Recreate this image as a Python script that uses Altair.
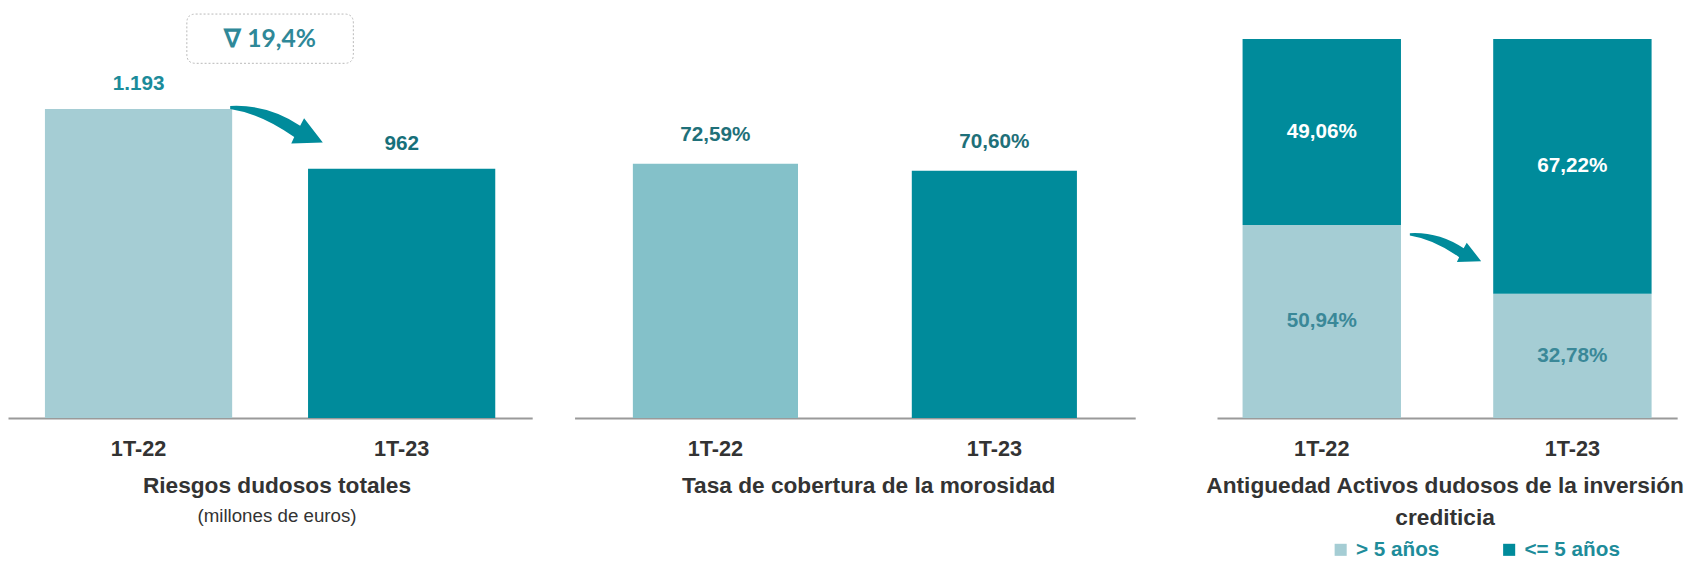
import altair as alt
import pandas as pd

# ---------------- data ----------------
periods = ["1T-22", "1T-23"]
riesgos = [1193, 962]
riesgos_labels = ["1.193", "962"]
cobertura = [72.59, 70.60]
cobertura_labels = ["72,59%", "70,60%"]
antig_series = ["> 5 años", "<= 5 años"]
mas5 = [50.94, 32.78]
menos5 = [49.06, 67.22]

titles = {
    "p1": "Riesgos dudosos totales",
    "p1_sub": "(millones  de euros)",
    "p2": "Tasa de cobertura de la morosidad",
    "p3": ["Antiguedad Activos  dudosos de la inversión", "crediticia"],
}

# ---------------- style ----------------
FONT = "Liberation Sans, Arial, sans-serif"
LIGHT = "#a5cdd4"
LIGHT2 = "#84c1c9"
DARK = "#008b9b"
TXT = "#333333"
H = 410
W1, W2, W3 = 532, 569, 467
SP1, SP2 = 43, 67
LBL = 21


def pct(v):
    return f"{v:.2f}%".replace(".", ",")


def band_scale(p_in, p_out):
    return alt.Scale(paddingInner=p_in, paddingOuter=p_out)


AX_DEFAULT = alt.Axis(title=None, labelAngle=0)


def x_enc(scale, band_pos=None, axis=AX_DEFAULT):
    kw = {}
    if band_pos is not None:
        kw["bandPosition"] = band_pos
    return alt.X("periodo:N", sort=periods, scale=scale, axis=axis, **kw)


ARROW_PTS = [(0, 0), (38, -2), (71, 20), (75, 12.5), (94, 37),
             (62, 38), (65, 31.6), (32, 8), (0, 3)]


def arrow_path(scale, ox, oy, unit=50.0):
    p = [f"{(x * scale + ox) / unit:.3f} {(y * scale + oy) / unit:.3f}" for x, y in ARROW_PTS]
    return (f"M {p[0]} Q {p[1]} {p[2]} L {p[3]} L {p[4]} L {p[5]} "
            f"L {p[6]} Q {p[7]} {p[8]} Z")


def box_path(w, h, r, ox, unit=50.0):
    a, b, c, o = w / 2 / unit, h / 2 / unit, r / unit, ox / unit
    pts = [(-a + c, -b), (a - c, -b), (a, -b), (a, -b + c), (a, b - c), (a, b), (a - c, b),
           (-a + c, b), (-a, b), (-a, b - c), (-a, -b + c), (-a, -b), (-a + c, -b)]
    q = [f"{x + o:.3f} {y:.3f}" for x, y in pts]
    return (f"M {q[0]} L {q[1]} Q {q[2]} {q[3]} L {q[4]} Q {q[5]} {q[6]} "
            f"L {q[7]} Q {q[8]} {q[9]} L {q[10]} Q {q[11]} {q[12]} Z")


# ---------------- panel 1 ----------------
df1 = pd.DataFrame({
    "periodo": periods, "valor": riesgos, "label": riesgos_labels,
    "fill": [LIGHT, DARK], "lcolor": ["#1b8b9a", "#17707a"],
})
p1_in, p1_out = 0.2884, 0.1404
s1 = band_scale(p1_in, p1_out)
step1 = W1 / (2 - p1_in + 2 * p1_out)
gap_half = step1 * p1_in / 2  # distance from bar-1 right edge to midpoint between bars
y1 = alt.Y("valor:Q", scale=alt.Scale(domain=[0, 1559]), axis=None)
base1 = alt.Chart(df1)
bars1 = base1.mark_bar().encode(x=x_enc(s1), y=y1, color=alt.Color("fill:N", scale=None))
lab1 = base1.mark_text(dy=-25, fontSize=LBL, fontWeight="bold", font=FONT).encode(
    x=x_enc(s1), y=y1, text="label:N", color=alt.Color("lcolor:N", scale=None))
first1 = base1.transform_filter(alt.datum.periodo == periods[0])
arrow1 = first1.mark_point(shape=arrow_path(1.0, -2, -3), filled=True, size=10000,
                           color=DARK, opacity=1, strokeWidth=0).encode(
    x=x_enc(s1, 1.0), y=y1)
change = (riesgos[0] - riesgos[1]) / riesgos[0] * 100
box_text = f"∇ {change:.1f}%".replace(".", ",")
box1 = first1.mark_point(shape=box_path(169, 50, 9, gap_half), filled=False, size=10000,
                         stroke="#b8b8b8", strokeWidth=1, strokeDash=[2, 2], opacity=1).encode(
    x=x_enc(s1, 1.0), y=alt.value(25))
boxt1 = first1.mark_text(text=box_text, font="Lato", fontWeight="bold", fontSize=25,
                         color="#2f8898", baseline="middle", dx=gap_half).encode(
    x=x_enc(s1, 1.0), y=alt.value(25))
p1 = alt.layer(bars1, lab1, arrow1, box1, boxt1).properties(
    width=W1, height=H,
    title=alt.TitleParams(text=titles["p1"], subtitle=titles["p1_sub"], orient="bottom",
                          anchor="middle", font=FONT, fontSize=23, fontWeight="bold",
                          color=TXT, subtitleFont=FONT, subtitleFontSize=19,
                          subtitleColor=TXT, subtitleFontWeight="normal",
                          offset=16, subtitlePadding=10, dx=7))

# ---------------- panel 2 ----------------
df2 = pd.DataFrame({"periodo": periods, "valor": cobertura, "label": cobertura_labels,
                    "fill": [LIGHT2, DARK]})
s2 = band_scale(0.408, 0.209)
y2 = alt.Y("valor:Q", scale=alt.Scale(domain=[0, 115.3]), axis=None)
base2 = alt.Chart(df2)
bars2 = base2.mark_bar().encode(x=x_enc(s2), y=y2, color=alt.Color("fill:N", scale=None))
lab2 = base2.mark_text(dy=-29, fontSize=LBL, fontWeight="bold", font=FONT, color="#1f7079").encode(
    x=x_enc(s2), y=y2, text="label:N")
p2 = alt.layer(bars2, lab2).properties(
    width=W2, height=H,
    title=alt.TitleParams(text=titles["p2"], orient="bottom", anchor="middle", font=FONT,
                          fontSize=23, fontWeight="bold", color=TXT, offset=16, dx=14))

# ---------------- panel 3 ----------------
rows = []
for i, p in enumerate(periods):
    rows.append({"periodo": p, "serie": antig_series[0], "valor": mas5[i], "orden": 0, "label": pct(mas5[i])})
    rows.append({"periodo": p, "serie": antig_series[1], "valor": menos5[i], "orden": 1, "label": pct(menos5[i])})
df3 = pd.DataFrame(rows)
s3 = band_scale(0.368, 0.102)
ysc3 = alt.Scale(domain=[0, 106.6])
ax3 = alt.Axis(title=titles["p3"], labelAngle=0, titleFont=FONT, titleFontSize=23,
               titleFontWeight="bold", titleColor=TXT, titleBaseline="top",
               titleLineHeight=32, titlePadding=16, titleX=231, titleAlign="center")
base3 = alt.Chart(df3)
bars3 = base3.mark_bar().encode(
    x=x_enc(s3, axis=ax3),
    y=alt.Y("valor:Q", stack="zero", scale=ysc3, axis=None),
    color=alt.Color("serie:N", sort=antig_series,
                    scale=alt.Scale(domain=antig_series, range=[LIGHT, DARK]),
                    legend=alt.Legend(title=None, orient="none", legendX=115, legendY=533,
                                      direction="horizontal", symbolType="square",
                                      symbolSize=150, symbolStrokeWidth=0, padding=0,
                                      labelFont=FONT, labelFontSize=21, labelFontWeight="bold",
                                      labelColor="#1e8c9a", columnPadding=60, labelOffset=5)),
    order=alt.Order("orden:Q"),
)
stacked = base3.transform_stack(stack="valor", groupby=["periodo"], as_=["y0", "y1"],
                                sort=[alt.SortField("orden")]).transform_calculate(
    mid="(datum.y0 + datum.y1) / 2")
lab3a = stacked.transform_filter(alt.datum.orden == 1).mark_text(
    fontSize=LBL, fontWeight="bold", font=FONT, color="white", baseline="middle").encode(
    x=x_enc(s3, axis=ax3), y=alt.Y("mid:Q", scale=ysc3, axis=None), text="label:N")
lab3b = stacked.transform_filter(alt.datum.orden == 0).mark_text(
    fontSize=LBL, fontWeight="bold", font=FONT, color="#3a8898", baseline="middle").encode(
    x=x_enc(s3, axis=ax3), y=alt.Y("mid:Q", scale=ysc3, axis=None), text="label:N")
arrow3 = base3.transform_filter(
    (alt.datum.periodo == periods[0]) & (alt.datum.orden == 0)).mark_point(
    shape=arrow_path(0.77, 9, 8.3), filled=True, size=10000, color=DARK,
    opacity=1, strokeWidth=0).encode(
    x=x_enc(s3, 1.0, axis=ax3), y=alt.Y("valor:Q", stack=None, scale=ysc3, axis=None))
p3 = alt.layer(bars3, lab3a, lab3b, arrow3).properties(width=W3, height=H)

left = alt.hconcat(p1, p2, spacing=SP1).resolve_scale(x="independent", y="independent", color="independent")
chart = alt.hconcat(left, p3, spacing=SP2).resolve_scale(
    x="independent", y="independent", color="independent").properties(padding=0).configure_view(
    stroke=None).configure_axis(
    labelFont=FONT, labelFontSize=22, labelFontWeight="bold", labelColor=TXT,
    domainColor="#9a9a9a", domainWidth=2, ticks=False, labelPadding=21, grid=False)

chart.save("out.html", embed_options={"renderer": "svg", "actions": False})
